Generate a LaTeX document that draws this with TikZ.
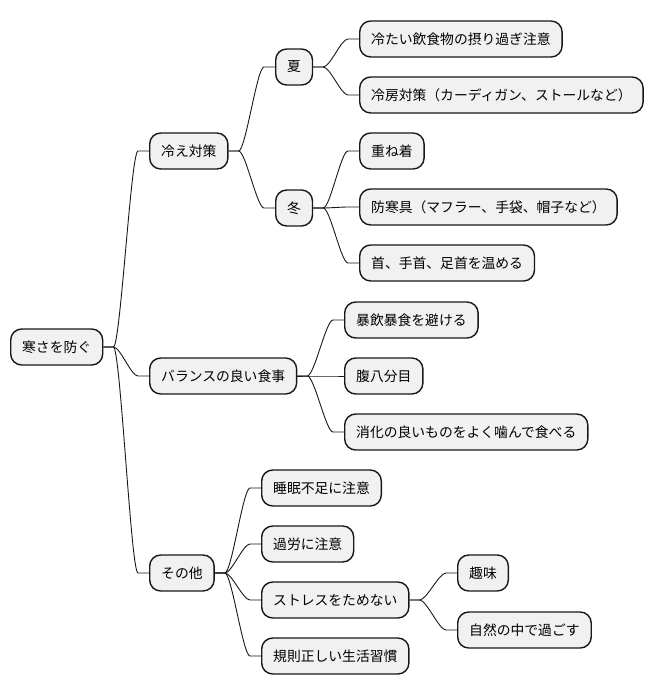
\documentclass[tikz,border=0pt]{standalone}
\usepackage{fontspec}
\usepackage{tikz}
\newfontfamily\cjk{Noto Sans CJK JP}
\definecolor{boxfill}{HTML}{F1F1F1}
\definecolor{boxline}{HTML}{181818}
\tikzset{
  topic/.style={draw=boxline, fill=boxfill, line width=1.4pt, rounded corners=11pt,
    anchor=west, minimum height=36pt, inner xsep=11.5pt, inner ysep=0pt,
    font=\cjk\fontsize{13.8}{16}\selectfont},
  branch/.style={draw=boxline, line width=0.9pt}
}

\begin{document}
\begin{tikzpicture}[x=1pt, y=-1pt]
\useasboundingbox (0,0) rectangle (656,696);
\node[topic] (root) at (10,347) {寒さを防ぐ};
\node[topic] (chill) at (149,151) {冷え対策};
\node[topic] (summer) at (275,67) {夏};
\node[topic] (cold1) at (359,39) {冷たい飲食物の摂り過ぎ注意};
\node[topic] (cold2) at (359,95) {冷房対策（カーディガン、ストールなど）};
\node[topic] (winter) at (275,208) {冬};
\node[topic] (layer) at (359,151) {重ね着};
\node[topic] (gear) at (359,207) {防寒具（マフラー、手袋、帽子など）};
\node[topic] (warm) at (359,263) {首、手首、足首を温める};
\node[topic] (diet) at (149,376) {バランスの良い食事};
\node[topic] (binge) at (344,320) {暴飲暴食を避ける};
\node[topic] (eighty) at (344,376) {腹八分目};
\node[topic] (chew) at (344,432) {消化の良いものをよく噛んで食べる};
\node[topic] (other) at (149,573) {その他};
\node[topic] (sleep) at (261,488) {睡眠不足に注意};
\node[topic] (overwork) at (261,544) {過労に注意};
\node[topic] (stress) at (261,600) {ストレスをためない};
\node[topic] (hobby) at (457,573) {趣味};
\node[topic] (nature) at (457,630) {自然の中で過ごす};
\node[topic] (routine) at (261,656) {規則正しい生活習慣};

\foreach \from/\to in {root/chill, root/diet, root/other,
    chill/summer, chill/winter, summer/cold1, summer/cold2,
    winter/layer, winter/gear, winter/warm,
    diet/binge, diet/eighty, diet/chew,
    other/sleep, other/overwork, other/stress, other/routine,
    stress/hobby, stress/nature}
  \draw[branch] (\from.east) -- ++(10,0)
    .. controls +(7,0) and +(-7,0) .. ([xshift=-11pt]\to.west) -- (\to.west);
\end{tikzpicture}
\end{document}
